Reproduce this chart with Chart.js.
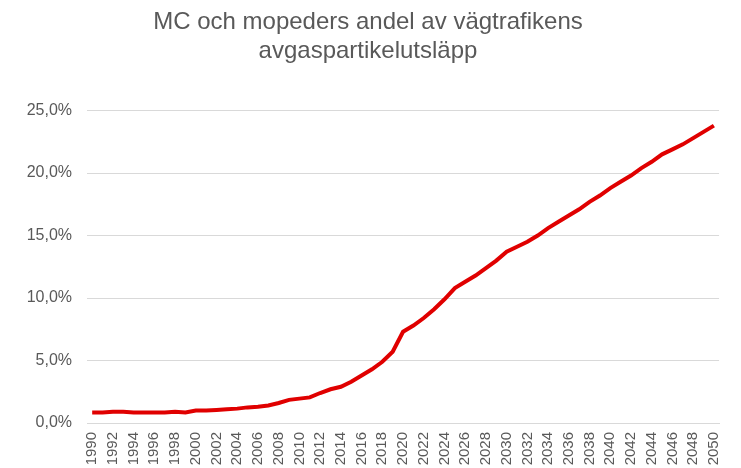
<!DOCTYPE html>
<html>
<head>
<meta charset="utf-8">
<script src="https://cdn.jsdelivr.net/npm/chart.js@4"></script>
<style>
  html, body { margin: 0; padding: 0; background: #fff; }
  #wrap { width: 741px; height: 468px; }
</style>
</head>
<body>
<div id="wrap"><canvas id="utslapp"></canvas></div>
<script>
// år 1990-2050
var years = [];
for (var y = 1990; y <= 2050; y++) years.push(String(y));

// MC och mopeders andel (%)
var andel = [
  0.85, 0.85, 0.9, 0.9, 0.85, 0.85, 0.85, 0.85, 0.9, 0.85,
  1.0, 1.0, 1.05, 1.1, 1.15, 1.25, 1.3, 1.4, 1.6, 1.85,
  1.95, 2.05, 2.4, 2.7, 2.9, 3.3, 3.8, 4.3, 4.9, 5.7,
  7.3, 7.8, 8.4, 9.1, 9.9, 10.8, 11.3, 11.8, 12.4, 13.0,
  13.7, 14.1, 14.5, 15.0, 15.6, 16.1, 16.6, 17.1, 17.7, 18.2,
  18.8, 19.3, 19.8, 20.4, 20.9, 21.5, 21.9, 22.3, 22.8, 23.3,
  23.8
];

var titel = ['MC och mopeders andel av vägtrafikens', 'avgaspartikelutsläpp'];
var grey = '#595959';
var font = 'Liberation Sans, Arial, sans-serif';

var ctx = document.getElementById('utslapp').getContext('2d');
var chart = new Chart(ctx, {
    type: 'line',
    data: {
        labels: years,
        datasets: [{
            label: 'Andel',
            data: andel,
            borderColor: '#e00000',
            borderWidth: 4,
            pointRadius: 0,
            tension: 0,
            fill: false
        }]
    },
    options: {
        responsive: true,
        maintainAspectRatio: false,
        animation: false,
        layout: { padding: { left: 8, right: 13, top: 0, bottom: 0 } },
        plugins: {
            legend: { display: false },
            tooltip: { enabled: false },
            title: {
                display: true,
                text: titel,
                color: grey,
                font: { family: font, size: 24, weight: 'normal' },
                lineHeight: 1.35,
                padding: { top: 8, bottom: 45 }
            }
        },
        scales: {
            x: {
                offset: true,
                grid: { display: false, drawTicks: false },
                border: { display: true, color: '#d9d9d9', width: 1 },
                afterFit: function(axis) { axis.height = 45; },
                ticks: {
                    color: grey,
                    font: { family: font, size: 15 },
                    autoSkip: false,
                    maxRotation: 90,
                    minRotation: 90,
                    padding: 9,
                    callback: function(val, i) {
                        return i % 2 === 0 ? years[i] : '';
                    }
                }
            },
            y: {
                min: 0,
                max: 25,
                grid: { color: '#d9d9d9', drawTicks: false },
                border: { display: false },
                afterFit: function(axis) { axis.width = 79; },
                ticks: {
                    stepSize: 5,
                    color: grey,
                    padding: 15,
                    font: { family: font, size: 16 },
                    callback: function(v) {
                        return v.toFixed(1).replace('.', ',') + '%';
                    }
                }
            }
        }
    }
});
</script>
</body>
</html>
